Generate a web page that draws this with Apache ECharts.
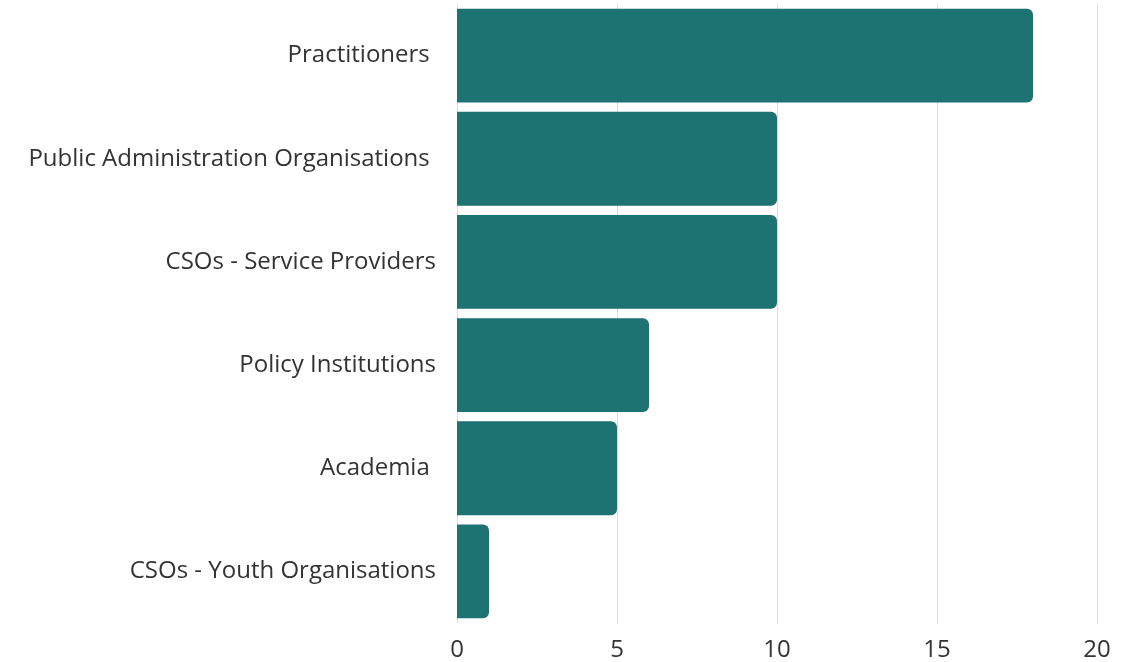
<!DOCTYPE html>
<html><head><meta charset="utf-8">
<script src="https://cdn.jsdelivr.net/npm/echarts@6/dist/echarts.min.js"></script>
<style>html,body{margin:0;padding:0;background:#fff}#c{width:1128px;height:662px}</style>
</head><body><div id="c"></div>
<script>
const categories = ["Practitioners ", "Public Administration Organisations ", "CSOs - Service Providers", "Policy Institutions", "Academia ", "CSOs - Youth Organisations"];
const values = [18, 10, 10, 6, 5, 1];
const xTicks = [0, 5, 10, 15, 20];

const chart = echarts.init(document.getElementById('c'), null, {renderer: 'canvas'});
chart.setOption({
  animation: false,
  grid: {left: 457, right: 31, top: 4, bottom: 36, containLabel: false},
  xAxis: {
    type: 'value', min: xTicks[0], max: xTicks[xTicks.length - 1], interval: 5,
    axisLine: {show: false}, axisTick: {show: false},
    splitLine: {lineStyle: {color: '#dcdcdc', width: 1}},
    axisLabel: {color: '#333', fontSize: 24, fontFamily: 'Open Sans', margin: 15}
  },
  yAxis: {
    type: 'category', inverse: true, data: categories,
    axisLine: {show: false}, axisTick: {show: false},
    axisLabel: {color: '#333', fontSize: 24, fontFamily: 'Open Sans', margin: 21, lineHeight: 30, verticalAlign: 'middle', padding: [6, 0, 0, 0]}
  },
  series: [{
    type: 'bar', data: values, barCategoryGap: '9%',
    itemStyle: {color: '#1d7272', borderRadius: [0, 6, 6, 0]}
  }]
});
</script></body></html>
